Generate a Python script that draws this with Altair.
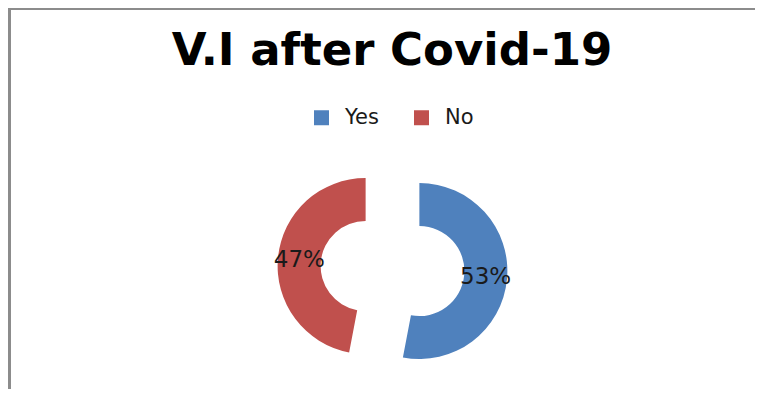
import math
import altair as alt
import pandas as pd

# ---- data ----
categories = ["Yes", "No"]
values = [53, 47]
colors = ["#4F81BD", "#C0504D"]
title_text = "V.I after Covid-19"

df = pd.DataFrame({"cat": categories, "value": values, "order": list(range(len(categories)))})

# ---- layout constants ----
W, H = 747, 381
CX, CY = 384.5, 260.5
R_OUT, R_IN = 88, 45
EXPLODE = 27
LABEL_R = (R_OUT + R_IN) / 2

base = (
    alt.Chart(df)
    .transform_joinaggregate(total="sum(value)")
    .transform_window(cum="sum(value)", sort=[alt.SortField("order")], frame=[None, 0])
    .transform_calculate(
        start="(datum.cum - datum.value) / datum.total",
        end="datum.cum / datum.total",
    )
    .transform_calculate(mid="(datum.start + datum.end) * PI")
    .transform_calculate(
        cx=f"{CX} + {EXPLODE} * sin(datum.mid)",
        cy=f"{CY} - {EXPLODE} * cos(datum.mid)",
        pct="format(datum.value / datum.total, '.0%')",
    )
    .transform_calculate(
        lx=f"datum.cx + {LABEL_R} * sin(datum.mid)",
        ly=f"datum.cy - {LABEL_R} * cos(datum.mid)",
    )
)

arcs = base.mark_arc(outerRadius=R_OUT, innerRadius=R_IN).encode(
    theta=alt.Theta("start:Q", scale=alt.Scale(domain=[0, 1]), stack=None),
    theta2="end:Q",
    x=alt.X("cx:Q", scale=None, axis=None),
    y=alt.Y("cy:Q", scale=None, axis=None),
    color=alt.Color(
        "cat:N",
        sort=categories,
        scale=alt.Scale(domain=categories, range=colors),
        legend=alt.Legend(
            title=None,
            orient="none",
            direction="horizontal",
            legendX=303,
            legendY=99,
            symbolType="square",
            symbolSize=225,
            symbolStrokeWidth=0,
            labelFont="DejaVu Sans",
            labelFontSize=21,
            labelColor="#1a1a1a",
            labelOffset=13,
            columnPadding=32,
        ),
    ),
)

labels = base.mark_text(font="DejaVu Sans", fontSize=23, color="#1a1a1a").encode(
    x=alt.X("lx:Q", scale=None, axis=None),
    y=alt.Y("ly:Q", scale=None, axis=None),
    text="pct:N",
)

tdf = pd.DataFrame({"t": [title_text]})
title = alt.Chart(tdf).mark_text(
    font="DejaVu Sans", fontSize=45, fontWeight="bold", color="#000000",
    baseline="alphabetic", align="center",
).encode(x=alt.value(384), y=alt.value(57), text="t:N")

frame_top = alt.Chart(tdf).mark_rule(color="#8c8c8c", strokeWidth=3).encode(
    x=alt.value(0), x2=alt.value(W), y=alt.value(0.5)
)
frame_left = alt.Chart(tdf).mark_rule(color="#8c8c8c", strokeWidth=3).encode(
    x=alt.value(1.5), y=alt.value(0), y2=alt.value(H)
)

chart = (
    alt.layer(frame_top, frame_left, arcs, labels, title)
    .properties(width=W, height=H, padding=0, autosize=alt.AutoSizeParams(type="none"))
    .configure_view(stroke=None)
)

chart.save("out.html", embed_options={"renderer": "svg", "actions": False})
